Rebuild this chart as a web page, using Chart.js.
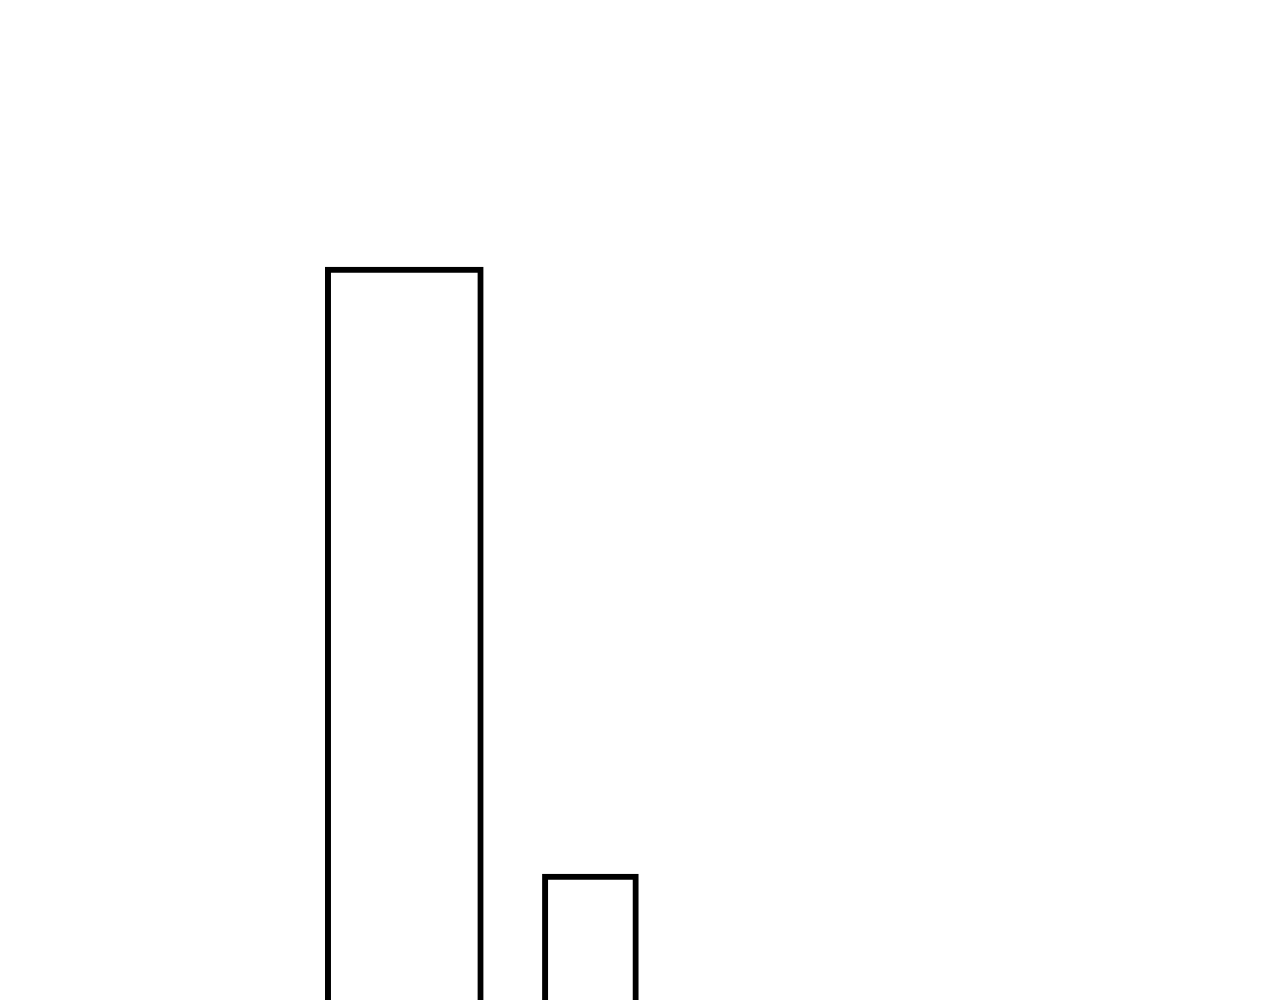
<!DOCTYPE html>
<html lang="en">
<head>
    <meta charset="UTF-8">
    <title>Bars</title>
    <script src="https://cdn.jsdelivr.net/npm/chart.js"></script>
    <style>
        html, body { margin: 0; padding: 0; background: #fff; }
        #wrap { width: 1280px; height: 1000px; position: relative; }
    </style>
</head>
<body>
    <div id="wrap"><canvas id="barChart"></canvas></div>

    <script>
        // values (no axis shown, scale 0-100)
        const categories = ['A', 'B'];
        const firstValues = [73.3, null];
        const secondValues = [null, 12.6];

        const ctx = document.getElementById('barChart').getContext('2d');
        new Chart(ctx, {
            type: 'bar',
            data: {
                labels: categories,
                datasets: [{
                    data: firstValues,
                    backgroundColor: '#ffffff',
                    borderColor: '#000000',
                    borderWidth: 6,
                    barThickness: 158
                }, {
                    data: secondValues,
                    backgroundColor: '#ffffff',
                    borderColor: '#000000',
                    borderWidth: 6,
                    barThickness: 96
                }]
            },
            options: {
                responsive: true,
                maintainAspectRatio: false,
                animation: false,
                grouped: false,
                layout: {
                    padding: { left: 311.25, right: 596.55, top: 0, bottom: 0 }
                },
                plugins: {
                    legend: { display: false },
                    tooltip: { enabled: false }
                },
                scales: {
                    x: { display: false },
                    y: { display: false, min: 0, max: 100 }
                }
            }
        });
    </script>
</body>
</html>
